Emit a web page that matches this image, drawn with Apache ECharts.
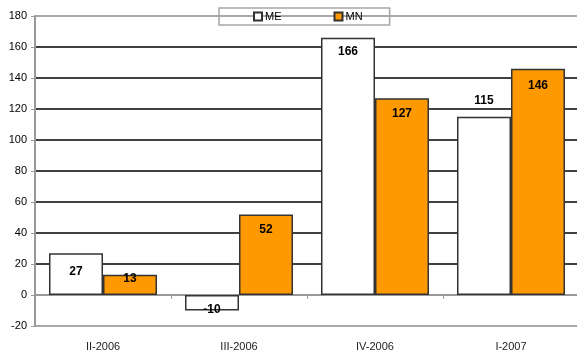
<!DOCTYPE html>
<html>
<head>
<meta charset="utf-8">
<script src="https://cdn.jsdelivr.net/npm/echarts@6/dist/echarts.min.js"></script>
<style>
  html, body { margin: 0; padding: 0; background: #fff; }
  #chart { width: 577px; height: 354px; }
</style>
</head>
<body>
<div id="chart"></div>
<script>
// Quarterly values for the two series
const quarters = ['II-2006', 'III-2006', 'IV-2006', 'I-2007'];
const seriesNames = ['ME', 'MN'];
const meValues = [27, -10, 166, 115];
const mnValues = [13, 52, 127, 146];
const yTicks = { min: -20, max: 180, step: 20 };

// Label placement tweaks per bar (value labels sit near the bar end)
const meLabelStyle = [
  { position: 'insideTop', distance: 13 },
  { position: 'inside', offset: [0, 7] },
  { position: 'insideTop', distance: 8 },
  { position: 'top', distance: 10 }
];
const mnLabelStyle = [
  { position: 'insideTop', distance: -2 },
  { position: 'insideTop', distance: 9 },
  { position: 'insideTop', distance: 10 },
  { position: 'insideTop', distance: 11 }
];

const FONT = '"Liberation Sans", Arial, sans-serif';

function buildData(values, styles) {
  return values.map((v, i) => ({ value: v, label: styles[i] }));
}

// Split line colours: plot border lines grey, interior lines black
const nLines = (yTicks.max - yTicks.min) / yTicks.step + 1;
const splitColors = [];
for (let i = 0; i < nLines; i++) {
  splitColors.push(i === 0 || i === nLines - 1 ? '#8c8c8c' : '#000');
}

const chart = echarts.init(document.getElementById('chart'), null, { renderer: 'canvas' });
chart.setOption({
  animation: false,
  backgroundColor: '#fff',
  grid: { left: 35, top: 16, width: 544, bottom: 28, outerBoundsMode: 'none', containLabel: false },
  legend: {
    data: seriesNames,
    left: 219,
    top: 8,
    padding: [3, 27, 3, 34],
    itemGap: 52,
    itemWidth: 8,
    itemHeight: 8,
    icon: 'rect',
    borderColor: '#a6a6a6',
    borderWidth: 1.5,
    backgroundColor: 'transparent',
    textStyle: { fontFamily: FONT, fontSize: 11, color: '#000', padding: [0, 0, 3, -2] }
  },
  xAxis: [
    {
      // zero line with category separators
      type: 'category',
      data: quarters,
      axisLine: { onZero: true, lineStyle: { color: '#999', width: 2 } },
      axisTick: { show: true, inside: false, length: 4, lineStyle: { color: '#999' } },
      axisLabel: { show: false }
    },
    {
      // category names along the bottom of the plot
      type: 'category',
      data: quarters,
      position: 'bottom',
      axisLine: { show: false, onZero: false },
      axisTick: { show: false },
      axisLabel: { margin: 15, fontFamily: FONT, fontSize: 11, color: '#222' }
    }
  ],
  yAxis: {
    type: 'value',
    min: yTicks.min,
    max: yTicks.max,
    interval: yTicks.step,
    axisLine: { show: true, lineStyle: { color: '#999', width: 2 } },
    axisTick: { show: true, length: 4, lineStyle: { color: '#999' } },
    axisLabel: { margin: 8, fontFamily: FONT, fontSize: 11, color: '#000' },
    splitLine: { show: true, lineStyle: { color: splitColors, width: 1.5 } }
  },
  series: [
    {
      name: seriesNames[0],
      type: 'bar',
      data: buildData(meValues, meLabelStyle),
      barGap: '0%',
      barCategoryGap: '20.6%',
      itemStyle: { color: '#fff', borderColor: '#333', borderWidth: 1.5 },
      label: { show: true, fontFamily: FONT, fontSize: 12, fontWeight: 'bold', color: '#000' }
    },
    {
      name: seriesNames[1],
      type: 'bar',
      data: buildData(mnValues, mnLabelStyle),
      itemStyle: { color: '#ff9900', borderColor: '#333', borderWidth: 1.5 },
      label: { show: true, fontFamily: FONT, fontSize: 12, fontWeight: 'bold', color: '#000' }
    }
  ]
});
</script>
</body>
</html>
